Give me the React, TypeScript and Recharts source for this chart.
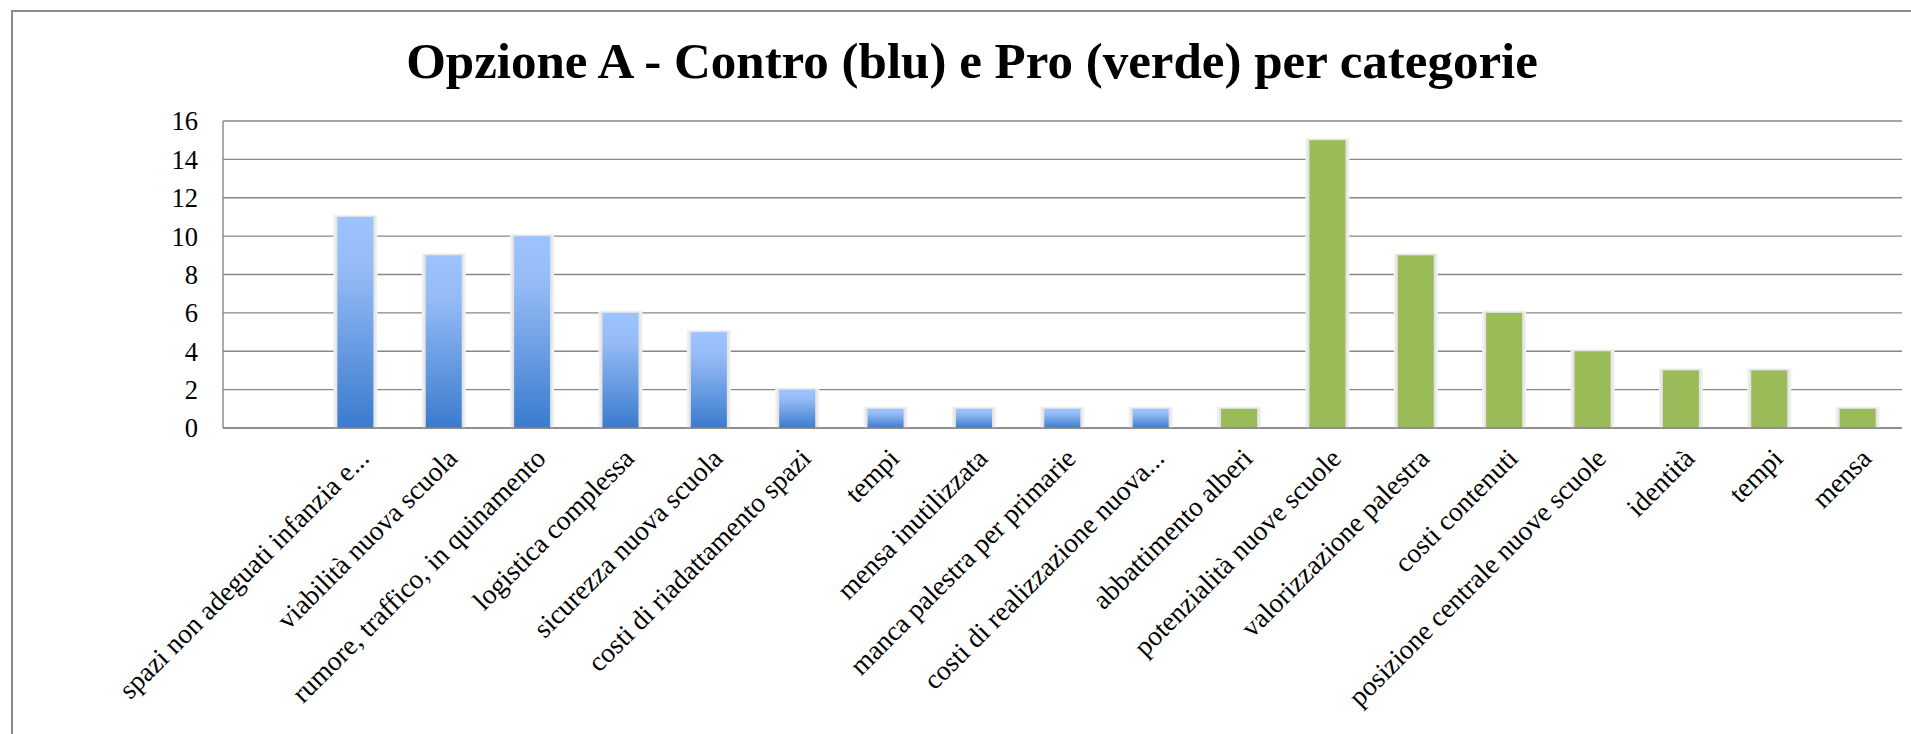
import React from "react";
import { BarChart, Bar, XAxis, YAxis, CartesianGrid } from "recharts";

const TITLE = "Opzione A - Contro (blu) e Pro (verde) per categorie";

const categories = [
  "",
  "spazi non adeguati infanzia e...",
  "viabilità nuova scuola",
  "rumore, traffico, in quinamento",
  "logistica complessa",
  "sicurezza nuova scuola",
  "costi di riadattamento spazi",
  "tempi",
  "mensa inutilizzata",
  "manca palestra per primarie",
  "costi di realizzazione nuova...",
  "abbattimento alberi",
  "potenzialità nuove scuole",
  "valorizzazione palestra",
  "costi contenuti",
  "posizione centrale nuove scuole",
  "identità",
  "tempi",
  "mensa",
];

const contro: (number | null)[] = [null, 11, 9, 10, 6, 5, 2, 1, 1, 1, 1, null, null, null, null, null, null, null, null];
const pro: (number | null)[] = [null, null, null, null, null, null, null, null, null, null, null, 1, 15, 9, 6, 4, 3, 3, 1];

const yTicks = [0, 2, 4, 6, 8, 10, 12, 14, 16];

const data = categories.map((c, i) => ({ cat: c, contro: contro[i], pro: pro[i] }));

const FONT = "'Liberation Serif', 'Times New Roman', serif";

const XTick = (props: any) => {
  const { x, y, payload } = props;
  const tx = x + 15;
  const ty = y + 32;
  return (
    <text
      x={tx}
      y={ty}
      transform={`rotate(-45, ${tx}, ${ty})`}
      textAnchor="end"
      fontFamily={FONT}
      fontSize={27.5}
      fill="#000"
    >
      {payload.value}
    </text>
  );
};

const ShadowBar = (props: any) => {
  const { x, y, width, height, fill } = props;
  if (!height || height <= 0) return null;
  return (
    <g>
      <rect x={x - 4} y={y - 2} width={width + 8} height={height + 2} fill="#f0f0f0" />
      <rect x={x - 2} y={y - 1} width={width + 4} height={height + 1} fill="#e4e4e4" />
      <rect x={x} y={y} width={width} height={height} fill={fill} />
    </g>
  );
};

export default function App() {
  return (
    <div style={{ position: "absolute", left: 0, top: 0, width: 1911, height: 734, overflow: "hidden", background: "#fff" }}>
      <div
        style={{
          position: "absolute",
          left: 11,
          top: 10,
          width: 2000,
          height: 900,
          border: "2px solid #8a8a8a",
          boxSizing: "border-box",
        }}
      />
      <div style={{ position: "absolute", left: 0, top: 0 }}>
        <BarChart
          width={1911}
          height={734}
          data={data}
          margin={{ top: 121, right: 9, left: 0, bottom: 0 }}
          barCategoryGap={0}
        >
          <defs>
            <linearGradient id="blueGrad" x1="0" y1="0" x2="0" y2="1">
              <stop offset="0%" stopColor="#9ec4ff" />
              <stop offset="25%" stopColor="#95bbf6" />
              <stop offset="100%" stopColor="#3a7bcd" />
            </linearGradient>
          </defs>
          <CartesianGrid horizontal={true} vertical={false} stroke="#878787" strokeWidth={1.4} />
          <XAxis
            dataKey="cat"
            interval={0}
            tickLine={false}
            tickSize={0}
            tickMargin={0}
            height={306}
            axisLine={{ stroke: "#878787", strokeWidth: 1.4 }}
            tick={<XTick />}
          />
          <YAxis
            domain={[0, 16]}
            ticks={yTicks}
            interval={0}
            width={223}
            tickLine={false}
            tickSize={0}
            tickMargin={25}
            axisLine={{ stroke: "#878787", strokeWidth: 1.4 }}
            tick={{ fontFamily: FONT, fontSize: 26.5, fill: "#000" }}
          />
          <Bar dataKey="contro" stackId="a" barSize={36} fill="url(#blueGrad)" shape={<ShadowBar />} isAnimationActive={false} />
          <Bar dataKey="pro" stackId="a" barSize={36} fill="#9bbb59" shape={<ShadowBar />} isAnimationActive={false} />
        </BarChart>
      </div>
      <svg width={1911} height={734} style={{ position: "absolute", left: 0, top: 0, pointerEvents: "none" }}>
        <text x={972} y={78} textAnchor="middle" fontFamily={FONT} fontWeight="bold" fontSize={51} fill="#000">
          {TITLE}
        </text>
      </svg>
    </div>
  );
}
